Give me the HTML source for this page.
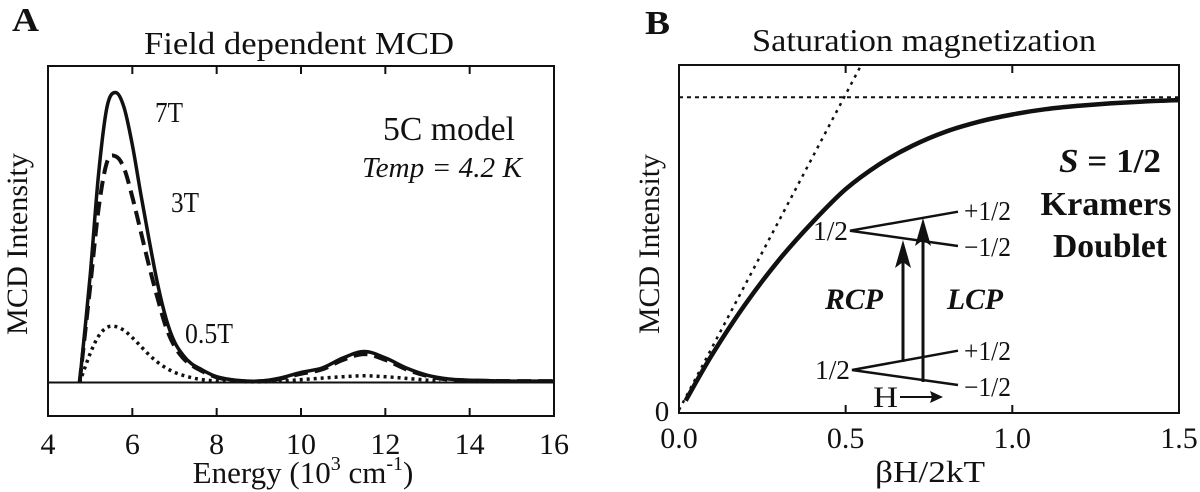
<!DOCTYPE html>
<html><head><meta charset="utf-8"><style>
html,body{margin:0;padding:0;background:#fff;}
svg{display:block;font-family:"Liberation Serif","Times New Roman",Times,serif;}
text{font-family:"Liberation Serif","Times New Roman",Times,serif;fill:#111;}
</style></head><body>
<svg id="fig" width="1200" height="492" viewBox="0 0 1200 492" xmlns="http://www.w3.org/2000/svg" font-family="Liberation Serif, serif">
<g id="panelA">
<text x="12" y="31" font-size="34" font-weight="bold" textLength="27" lengthAdjust="spacingAndGlyphs">A</text>
<text x="299" y="54" font-size="32" text-anchor="middle" textLength="310" lengthAdjust="spacingAndGlyphs">Field dependent MCD</text>
<rect x="48" y="66" width="506" height="350" fill="none" stroke="#111" stroke-width="2"/>
<g id="aTicks"></g>
<g id="aCurves"></g>
<text x="169" y="122" font-size="28" text-anchor="middle" textLength="28" lengthAdjust="spacingAndGlyphs">7T</text>
<text x="185" y="212" font-size="28" text-anchor="middle" textLength="28" lengthAdjust="spacingAndGlyphs">3T</text>
<text x="209" y="343" font-size="28" text-anchor="middle" textLength="48" lengthAdjust="spacingAndGlyphs">0.5T</text>
<text x="449" y="140" font-size="34" text-anchor="middle" textLength="132" lengthAdjust="spacingAndGlyphs">5C model</text>
<text x="442" y="177" font-size="28" font-style="italic" text-anchor="middle" textLength="160" lengthAdjust="spacingAndGlyphs">Temp = 4.2 K</text>
<text x="303" y="483" font-size="31" text-anchor="middle">Energy (10<tspan dy="-13" font-size="20">3</tspan><tspan dy="13"> cm</tspan><tspan dy="-13" font-size="20">-1</tspan><tspan dy="13">)</tspan></text>
<text transform="translate(27,244) rotate(-90)" font-size="30" text-anchor="middle" textLength="182" lengthAdjust="spacingAndGlyphs">MCD Intensity</text>
</g>
<g id="panelB">
<text x="645" y="34" font-size="34" font-weight="bold" textLength="25" lengthAdjust="spacingAndGlyphs">B</text>
<text x="924" y="51" font-size="32" text-anchor="middle" textLength="344" lengthAdjust="spacingAndGlyphs">Saturation magnetization</text>
<rect x="679" y="65" width="500" height="348" fill="none" stroke="#111" stroke-width="2"/>
<g id="bTicks"></g>
<text x="662" y="421" font-size="29" text-anchor="middle">0</text>
<g id="bCurves"></g>
<g stroke="#111" stroke-width="2.5" fill="none">
<polyline points="958,211.7 850,230.7 958,246"/>
<polyline points="958,350.7 852,370 958,385"/>
<line x1="903" y1="362" x2="903" y2="262" stroke-width="3"/>
<line x1="923" y1="382" x2="923" y2="240" stroke-width="3"/>
<line x1="900" y1="397" x2="936" y2="397" stroke-width="2"/>
</g>
<polygon points="903,240 911,268 903,262 895,268" fill="#111"/>
<polygon points="923,218 931,246 923,240 915,246" fill="#111"/>
<polygon points="943,397 930,391 932,397 930,403" fill="#111"/>
<text x="848" y="240" font-size="27" text-anchor="end" textLength="35" lengthAdjust="spacingAndGlyphs">1/2</text>
<text x="850" y="379" font-size="27" text-anchor="end" textLength="35" lengthAdjust="spacingAndGlyphs">1/2</text>
<text x="964" y="220" font-size="27" textLength="47" lengthAdjust="spacingAndGlyphs">+1/2</text>
<text x="964" y="256" font-size="27" textLength="47" lengthAdjust="spacingAndGlyphs">−1/2</text>
<text x="964" y="360" font-size="27" textLength="47" lengthAdjust="spacingAndGlyphs">+1/2</text>
<text x="964" y="396" font-size="27" textLength="47" lengthAdjust="spacingAndGlyphs">−1/2</text>
<text x="873" y="407" font-size="30" textLength="25" lengthAdjust="spacingAndGlyphs">H</text>
<text x="825" y="309" font-size="30" font-weight="bold" font-style="italic" textLength="58" lengthAdjust="spacingAndGlyphs">RCP</text>
<text x="947" y="309" font-size="30" font-weight="bold" font-style="italic" textLength="56" lengthAdjust="spacingAndGlyphs">LCP</text>
<text x="1110" y="172" font-size="34" font-weight="bold" text-anchor="middle" textLength="102" lengthAdjust="spacingAndGlyphs"><tspan font-style="italic">S</tspan> = 1/2</text>
<text x="1106" y="215" font-size="34" font-weight="bold" text-anchor="middle" textLength="131" lengthAdjust="spacingAndGlyphs">Kramers</text>
<text x="1110" y="257" font-size="34" font-weight="bold" text-anchor="middle" textLength="114" lengthAdjust="spacingAndGlyphs">Doublet</text>
<text x="930" y="482" font-size="31" text-anchor="middle" textLength="110" lengthAdjust="spacingAndGlyphs">βH/2kT</text>
<text transform="translate(659,244) rotate(-90)" font-size="30" text-anchor="middle" textLength="180" lengthAdjust="spacingAndGlyphs">MCD Intensity</text>
</g>
</svg>
<script>
// Panel A data
const energy = [4.75,5.0,5.2,5.4,5.6,5.8,6.0,6.2,6.4,6.6,6.8,7.0,7.2,7.4,7.6,8.0,8.5,9.0,9.5,10.0,10.5,11.0,11.5,12.0,12.5,13.0,13.5,14.0,15.0,16.0];
const mcd7T = [0,0.37,0.72,0.95,1.0,0.95,0.82,0.65,0.49,0.34,0.22,0.14,0.095,0.065,0.048,0.02,0.007,0.005,0.015,0.035,0.05,0.085,0.107,0.085,0.05,0.025,0.012,0.008,0.005,0.005];
const mcd3T = [0,0.33,0.6,0.76,0.78,0.74,0.64,0.52,0.4,0.29,0.19,0.125,0.085,0.06,0.043,0.018,0.006,0.004,0.013,0.03,0.045,0.078,0.098,0.078,0.045,0.022,0.01,0.007,0.005,0.005];
const energyLow = [4.75,5.0,5.2,5.4,5.6,5.8,6.0,6.2,6.4,6.6,6.8,7.0,7.2,7.4,7.6,8.0,8.5,9.0,9.5,10.0,10.5,11.0,11.5,12.0,12.5,13.0,13.3];
const mcd05T = [0,0.1,0.16,0.19,0.193,0.18,0.155,0.125,0.095,0.07,0.05,0.035,0.025,0.017,0.011,0.005,0.003,0.002,0.004,0.01,0.015,0.02,0.023,0.02,0.014,0.008,0.005];
const aTickValues = [4,6,8,10,12,14,16];
const aTickLabels = ["4","6","8","10","12","14","16"];
// Panel B data
const field = [0.02,0.1,0.2,0.3,0.4,0.5,0.6,0.7,0.8,0.9,1.0,1.1,1.2,1.3,1.4,1.5];
const satCurve = [0.03,0.178,0.34,0.48,0.6,0.706,0.785,0.845,0.89,0.922,0.945,0.962,0.973,0.981,0.987,0.991];
const linearX = [0,0.545];
const linearY = [0,1.1];
const satX = [0,1.5];
const satY = [1,1];
const bTickValues = [0,0.5,1.0,1.5];
const bTickLabels = ["0.0","0.5","1.0","1.5"];

const NS="http://www.w3.org/2000/svg";
const ax=e=>48+(e-4)*(506/12);
const ay=v=>382.5-v*290;
const bx=v=>679+v*333.3;
const by=v=>410-v*312.7;
function smooth(pts){
  let d="M"+pts[0][0].toFixed(1)+","+pts[0][1].toFixed(1);
  for(let i=0;i<pts.length-1;i++){
    const p0=pts[i-1]||pts[i],p1=pts[i],p2=pts[i+1],p3=pts[i+2]||p2;
    const c1=[p1[0]+(p2[0]-p0[0])/6,p1[1]+(p2[1]-p0[1])/6];
    const c2=[p2[0]-(p3[0]-p1[0])/6,p2[1]-(p3[1]-p1[1])/6];
    d+=" C"+c1.map(n=>n.toFixed(1))+" "+c2.map(n=>n.toFixed(1))+" "+p2[0].toFixed(1)+","+p2[1].toFixed(1);
  }
  return d;
}
function mk(tag,attrs,parent){const el=document.createElementNS(NS,tag);for(const k in attrs)el.setAttribute(k,attrs[k]);parent.appendChild(el);return el;}
const aT=document.getElementById('aTicks');
aTickValues.forEach((v,i)=>{
  if(i>0&&i<aTickValues.length-1){
    const t1=mk('line',{x1:ax(v),x2:ax(v),y1:66,y2:74,stroke:'#111','stroke-width':2},aT);
    
    
    const t2=mk('line',{x1:ax(v),x2:ax(v),y1:416,y2:408,stroke:'#111','stroke-width':2},aT);
    
    
  }
  const tx=mk('text',{x:ax(v),y:454,'font-size':30,'text-anchor':'middle'},aT);
  tx.textContent=aTickLabels[i];
  
  
});
const aC=document.getElementById('aCurves');
const base=mk('line',{x1:48,x2:554,y1:ay(0),y2:ay(0),stroke:'#111','stroke-width':2},aC);


const p05=mk('path',{d:smooth(energyLow.map((e,i)=>[ax(e),ay(mcd05T[i])])),fill:'none',stroke:'#111','stroke-width':3.5,'stroke-dasharray':'3,4'},aC);


const p3=mk('path',{d:smooth(energy.map((e,i)=>[ax(e),ay(mcd3T[i])])),fill:'none',stroke:'#111','stroke-width':4,'stroke-dasharray':'14,7'},aC);


const p7=mk('path',{d:smooth(energy.map((e,i)=>[ax(e),ay(mcd7T[i])])),fill:'none',stroke:'#111','stroke-width':3.5},aC);



const bT=document.getElementById('bTicks');
bTickValues.forEach((v,i)=>{
  if(i>0&&i<bTickValues.length-1){
    const t1=mk('line',{x1:bx(v),x2:bx(v),y1:65,y2:73,stroke:'#111','stroke-width':2},bT);
    
    
    const t2=mk('line',{x1:bx(v),x2:bx(v),y1:413,y2:405,stroke:'#111','stroke-width':2},bT);
    
    
  }
  const tx=mk('text',{x:bx(v),y:448,'font-size':30,'text-anchor':'middle'},bT);
  tx.textContent=bTickLabels[i];
  
  
});
const bC=document.getElementById('bCurves');
const sl=mk('line',{x1:bx(satX[0]),x2:bx(satX[1]),y1:by(satY[0]),y2:by(satY[1]),stroke:'#111','stroke-width':2,'stroke-dasharray':'4,4'},bC);


const ll=mk('line',{x1:bx(linearX[0]),x2:bx(linearX[1]),y1:by(linearY[0]),y2:by(linearY[1]),stroke:'#111','stroke-width':2.5,'stroke-dasharray':'3,5'},bC);


const sc=mk('path',{d:smooth(field.map((x,i)=>[bx(x),by(satCurve[i])])),fill:'none',stroke:'#111','stroke-width':4.5},bC);


</script>
</body></html>
